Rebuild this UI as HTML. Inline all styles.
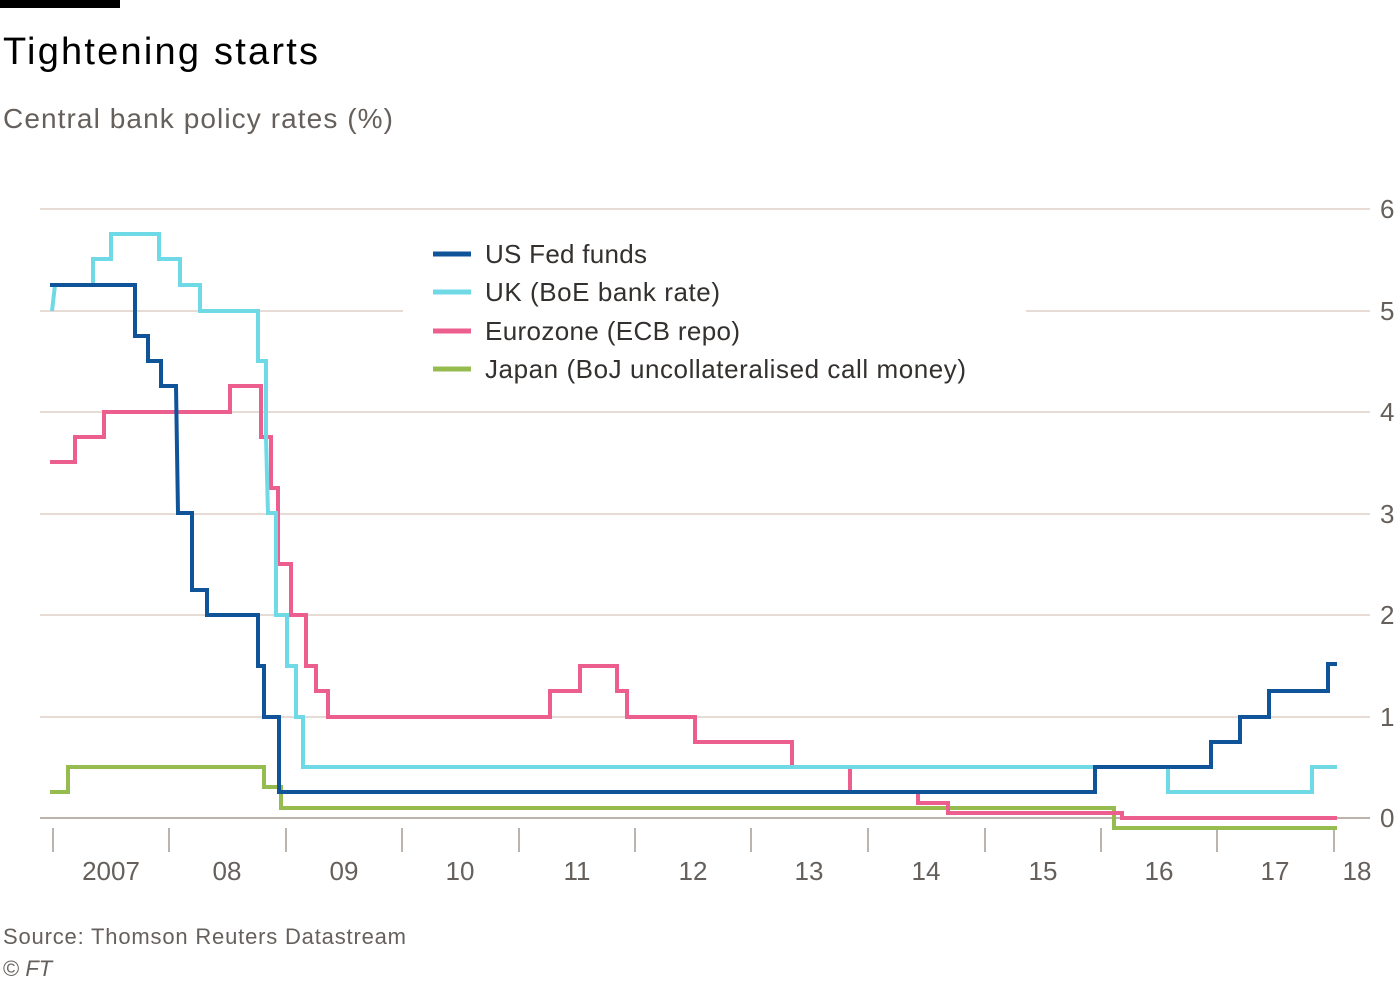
<!DOCTYPE html>
<html><head><meta charset="utf-8"><style>
body{margin:0;background:#fff;width:1400px;height:984px;overflow:hidden;font-family:"Liberation Sans",sans-serif}
</style></head><body>
<svg width="1400" height="984" viewBox="0 0 1400 984" xmlns="http://www.w3.org/2000/svg" font-family="Liberation Sans, sans-serif">
<rect x="0" y="0" width="120" height="8" fill="#000"/>
<text x="3" y="64" font-size="38" fill="#000" textLength="315">Tightening starts</text>
<text x="3" y="128" font-size="28" fill="#66605c" textLength="390">Central bank policy rates (%)</text>
<g stroke="#e6dcd5" stroke-width="2">
<line x1="40" x2="1370" y1="209" y2="209"/>
<line x1="40" x2="403" y1="311" y2="311"/><line x1="1026" x2="1370" y1="311" y2="311"/>
<line x1="40" x2="1370" y1="412" y2="412"/>
<line x1="40" x2="1370" y1="514" y2="514"/>
<line x1="40" x2="1370" y1="615" y2="615"/>
<line x1="40" x2="1370" y1="717" y2="717"/>
</g>
<line x1="40" x2="1370" y1="818" y2="818" stroke="#bcb3ac" stroke-width="2"/>
<g font-size="26" fill="#66605c">
<text x="1380" y="218">6</text><text x="1380" y="320">5</text><text x="1380" y="421">4</text>
<text x="1380" y="523">3</text><text x="1380" y="624">2</text><text x="1380" y="726">1</text><text x="1380" y="827">0</text>
</g>
<g stroke="#bcb3ac" stroke-width="2">
<line x1="53" x2="53" y1="828" y2="852"/><line x1="169" x2="169" y1="828" y2="852"/><line x1="286" x2="286" y1="828" y2="852"/>
<line x1="402" x2="402" y1="828" y2="852"/><line x1="519" x2="519" y1="828" y2="852"/><line x1="635" x2="635" y1="828" y2="852"/>
<line x1="751" x2="751" y1="828" y2="852"/><line x1="868" x2="868" y1="828" y2="852"/><line x1="985" x2="985" y1="828" y2="852"/>
<line x1="1101" x2="1101" y1="828" y2="852"/><line x1="1217" x2="1217" y1="828" y2="852"/><line x1="1334" x2="1334" y1="828" y2="852"/>
</g>
<g font-size="26" fill="#66605c" text-anchor="middle">
<text x="111" y="880">2007</text><text x="227" y="880">08</text><text x="344" y="880">09</text><text x="460" y="880">10</text>
<text x="577" y="880">11</text><text x="693" y="880">12</text><text x="809" y="880">13</text><text x="926" y="880">14</text>
<text x="1043" y="880">15</text><text x="1159" y="880">16</text><text x="1275" y="880">17</text><text x="1357" y="880">18</text>
</g>
<g fill="none" stroke-width="4" stroke-linejoin="miter">
<path stroke="#96bc50" d="M50 792H68V767H264V787H281V808H1114V828H1337"/>
<path stroke="#eb5e8d" d="M50 462H75V437H104V412H230V386H261V437H271V488H278V564H291V615H306V666H316V691H328V717H550V691H580V666H617V691H627V717H695V742H792V767H850V792H918V803H948V813H1122V818H1337"/>
<path stroke="#6fd9e6" d="M52 311L55 285H93V259H111V234H159V259H180V285H200V311H258V361H266V437L268 513H276V615H287V666H296V717H303V767H1168V792H1312V767H1337"/>
<path stroke="#0f5499" d="M50 285H135V336H148V361H161V386H176L178 513H192V590H207V615H258V666H264V717H279V792H1095V767H1170H1211V742H1240V717H1269V691H1328V664H1337"/>
</g>
<g stroke-width="5">
<line x1="433" x2="471" y1="254" y2="254" stroke="#0f5499"/>
<line x1="433" x2="471" y1="292" y2="292" stroke="#6fd9e6"/>
<line x1="433" x2="471" y1="331" y2="331" stroke="#eb5e8d"/>
<line x1="433" x2="471" y1="369" y2="369" stroke="#96bc50"/>
</g>
<g font-size="26" fill="#33302e">
<text x="485" y="263" textLength="162">US Fed funds</text>
<text x="485" y="301" textLength="235">UK (BoE bank rate)</text>
<text x="485" y="340" textLength="255">Eurozone (ECB repo)</text>
<text x="485" y="378" textLength="481">Japan (BoJ uncollateralised call money)</text>
</g>
<text x="3" y="944" font-size="22" fill="#66605c" textLength="403">Source: Thomson Reuters Datastream</text>
<text x="3" y="976" font-size="22" fill="#66605c">© <tspan font-style="italic">FT</tspan></text>
</svg>
</body></html>
